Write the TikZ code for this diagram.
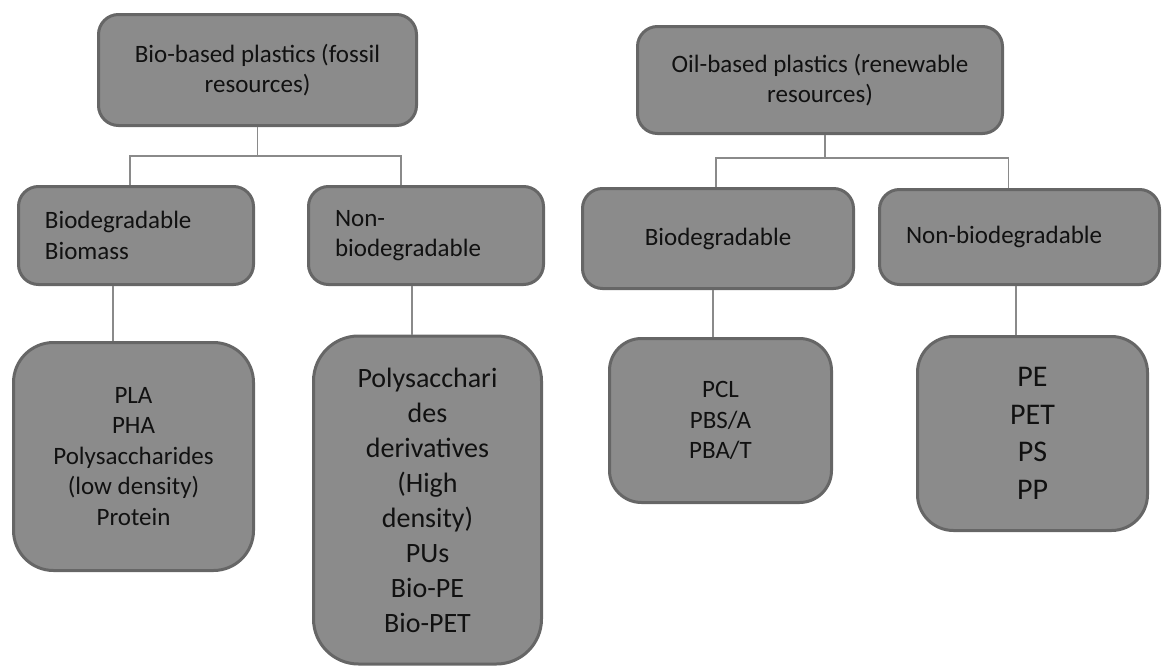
\documentclass[tikz,border=0pt]{standalone}
\usepackage{fontspec}
\setmainfont{Carlito}
\definecolor{boxfill}{HTML}{8B8B8B}
\definecolor{boxline}{HTML}{666666}
\definecolor{linkline}{HTML}{8A8A8A}
\definecolor{ink}{HTML}{111111}
\begin{document}
\begin{tikzpicture}[x=1pt, y=-1pt,
                    box/.style = {draw=boxline,
                                  line width=3pt,
                                  fill=boxfill,
                                  rounded corners=20pt,
                                  text=ink,
                                  inner sep=0pt,
                                  font=\fontsize{25}{30.5}\selectfont},
                    leaf/.style = {box,
                                   align=center},
                    link/.style = {draw=linkline,
                                   line width=1.5pt}]

  \useasboundingbox (0,0) rectangle (1163,667);

  % Bio-based branch
  \node[box, align=center, minimum width=318pt, minimum height=111pt] (bio) at (257.5,70)
    {Bio-based plastics (fossil\\resources)};
  \node[box, align=left, text width=182pt, minimum width=235pt, minimum height=98pt] (biomass) at (136,235.5)
    {Biodegradable\\Biomass};
  \node[box, align=left, text width=182pt, minimum width=235pt, minimum height=98pt] (nonbioL) at (426,235.5)
    {Non-\\biodegradable};

  % Oil-based branch
  \node[box, align=center, minimum width=365pt, minimum height=107pt] (oil) at (820,80)
    {Oil-based plastics (renewable\\resources)};
  \node[box, align=center, minimum width=271pt, minimum height=100pt] (bioR) at (718,238.5)
    {Biodegradable};
  \node[box, align=left, text width=227pt, minimum width=280pt, minimum height=95pt] (nonbioR) at (1019.5,237)
    {Non-biodegradable};

  % Leaves
  \node[leaf, rounded corners=40pt, minimum width=240pt, minimum height=228pt] (pla) at (133.5,456.5)
    {PLA\\PHA\\Polysaccharides\\(low density)\\Protein};
  \node[leaf, rounded corners=45pt, minimum width=228pt, minimum height=328pt,
        font=\fontsize{28}{35}\selectfont] (poly) at (427.5,500)
    {Polysacchari\\des\\derivatives\\(High\\density)\\PUs\\Bio-PE\\Bio-PET};
  \node[leaf, rounded corners=32pt, minimum width=222pt, minimum height=164pt] (pcl) at (720.5,420.5)
    {PCL\\PBS/A\\PBA/T};
  \node[leaf, rounded corners=36pt, minimum width=230pt, minimum height=194pt,
        font=\fontsize{30}{37.5}\selectfont] (pe) at (1032.5,433.5)
    {PE\\PET\\PS\\PP};

  % Tree links
  \draw[link] (bio.south) -- ++(0,29) coordinate (bioJ);
  \draw[link] ([xshift=-6pt]biomass.north) |- (bioJ) -| ([xshift=-25pt]nonbioL.north);
  \draw[link] ([xshift=5pt]oil.south) -- ++(0,23) coordinate (oilJ);
  \draw[link] ([xshift=-2pt]bioR.north) |- (oilJ) -| ([xshift=-11pt]nonbioR.north);

  % Stems to leaves
  \draw[link] ([xshift=-23pt]biomass.south) -- ([xshift=-23pt]biomass.south |- pla.north);
  \draw[link] ([xshift=-14pt]nonbioL.south) -- ([xshift=-14pt]nonbioL.south |- poly.north);
  \draw[link] ([xshift=-5pt]bioR.south) -- ([xshift=-5pt]bioR.south |- pcl.north);
  \draw[link] ([xshift=-3.5pt]nonbioR.south) -- ([xshift=-3.5pt]nonbioR.south |- pe.north);

\end{tikzpicture}
\end{document}
